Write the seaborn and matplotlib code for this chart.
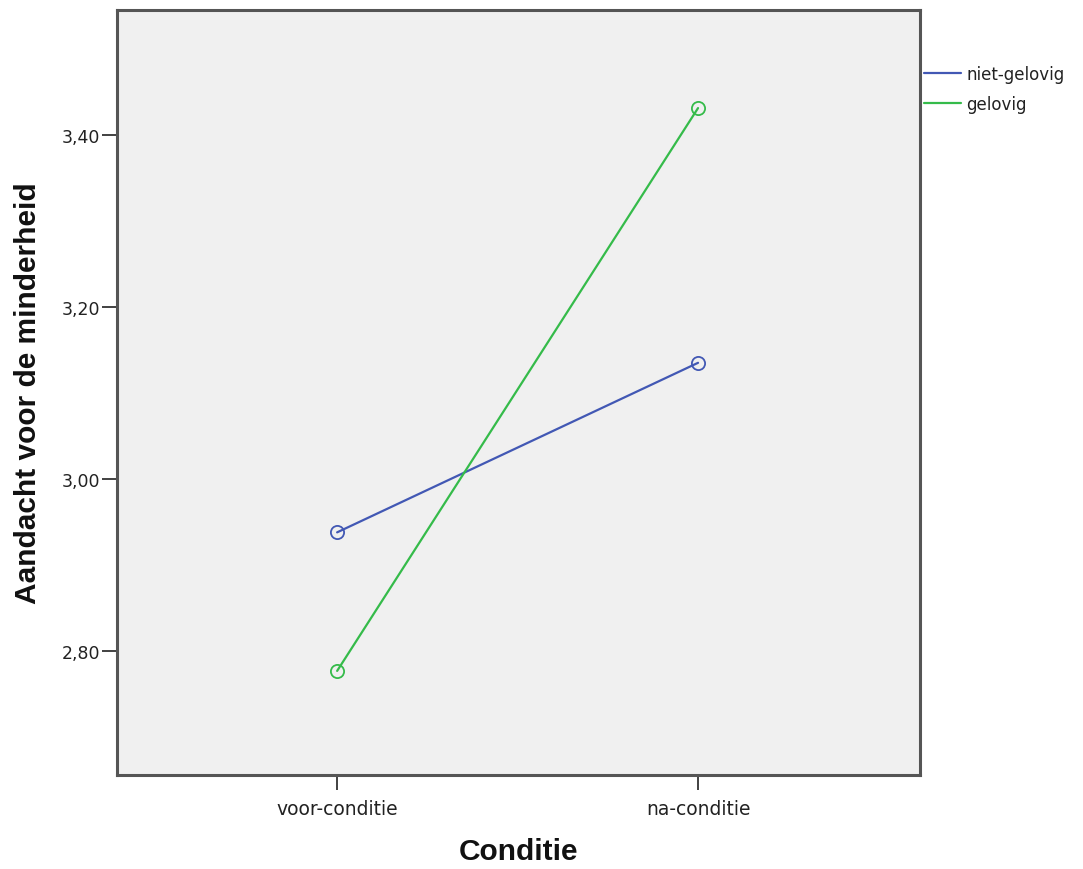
import pandas as pd
import matplotlib.pyplot as plt
import seaborn as sns

condities = ['voor-conditie', 'na-conditie']
groepen = ['niet-gelovig', 'gelovig']
niet_gelovig = [2.938, 3.135]
gelovig = [2.777, 3.431]
y_ticks = [2.80, 3.00, 3.20, 3.40]
kleuren = ['#4258b4', '#35bb4a']

df = pd.DataFrame({
    'Conditie': condities * 2,
    'Groep': [groepen[0]] * 2 + [groepen[1]] * 2,
    'Aandacht': niet_gelovig + gelovig,
})

sns.set_style('white')
plt.rcParams['font.family'] = ['DejaVu Sans']

fig = plt.figure(figsize=(10.83, 8.7), dpi=100)
ax = fig.add_axes([0.108, 0.108, 0.7415, 0.8794])
ax.set_facecolor('#f0f0f0')

sns.lineplot(data=df, x='Conditie', y='Aandacht', hue='Groep', hue_order=groepen,
             palette=kleuren, marker='o', markersize=9.5, markerfacecolor='none',
             markeredgewidth=1.3, linewidth=1.6, ax=ax, legend=False)
for line, c in zip(ax.lines, kleuren):
    line.set_markeredgecolor(c)

ax.set_xlim(-0.61, 1.615)
ax.set_ylim(2.656, 3.545)
ax.set_yticks(y_ticks)
ax.set_yticklabels([f'{v:.2f}'.replace('.', ',') for v in y_ticks])
ax.tick_params(axis='y', length=11, width=1.3, color='#333333', labelsize=12.5,
               labelcolor='#222222', pad=1, left=True)
ax.tick_params(axis='x', length=11, width=1.3, color='#333333', labelsize=13.5,
               labelcolor='#222222', pad=6, bottom=True)

for sp in ax.spines.values():
    sp.set_color('#555555')
    sp.set_linewidth(2.2)

lab = dict(fontsize=21.5, fontweight='bold', family='Liberation Sans', color='#111111')
ax.set_xlabel('Conditie', **lab)
ax.set_ylabel('Aandacht voor de minderheid', **lab)
ax.xaxis.label.set_va('center')
ax.yaxis.label.set_va('center')
ax.xaxis.set_label_coords(0.5, (776 - 852) / 765)
ax.yaxis.set_label_coords((28 - 117) / 803, 0.5)

handles = [plt.Line2D([], [], color=c, linewidth=1.6) for c in kleuren]
fig.legend(handles, groepen, loc='upper left', bbox_to_anchor=(924 / 1083, 1 - 66 / 870),
           frameon=False, fontsize=12, handlelength=2.2, handletextpad=0.35,
           labelspacing=0.7, borderaxespad=0, borderpad=0, labelcolor='#222222')

fig.savefig('out.png', dpi=100)
